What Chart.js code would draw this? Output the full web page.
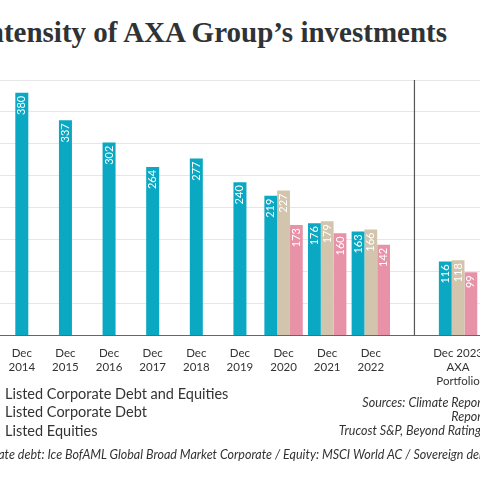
<!DOCTYPE html>
<html><head><meta charset="utf-8">
<script src="https://cdn.jsdelivr.net/npm/chart.js@4/dist/chart.umd.min.js"></script>
<style>
html,body{margin:0;padding:0;width:480px;height:480px;overflow:hidden;background:#fff;position:relative;font-family:Lato,sans-serif;color:#333}
#title{position:absolute;right:33px;top:16px;white-space:nowrap;font:bold 29px "Liberation Serif",serif;color:#2f3335}
#wrap{position:absolute;left:0;top:0;width:486px;height:391px}
.leg{position:absolute;left:5px;font-size:14.5px;color:#333;white-space:nowrap}
#src{position:absolute;right:-6px;top:396px;text-align:right;font-style:italic;font-size:12.5px;line-height:14px;white-space:nowrap;color:#333}
#foot{position:absolute;right:-10px;top:447px;font-style:italic;font-size:12.5px;white-space:nowrap;color:#333}
</style></head><body>
<div id="title">Carbon intensity of AXA Group’s investments</div>
<div id="wrap"><canvas id="c"></canvas></div>
<div class="leg" style="top:385px">Listed Corporate Debt and Equities</div>
<div class="leg" style="top:403px">Listed Corporate Debt</div>
<div class="leg" style="top:422px">Listed Equities</div>
<div id="src">Sources: Climate Report<br>Report<br>Trucost S&amp;P, Beyond Ratings</div>
<div id="foot">Benchmarks: Corporate debt: Ice BofAML Global Broad Market Corporate / Equity: MSCI World AC / Sovereign debt</div>
<script>
const categories=[["Dec","2014"],["Dec","2015"],["Dec","2016"],["Dec","2017"],["Dec","2018"],["Dec","2019"],["Dec","2020"],["Dec","2021"],["Dec","2022"],"",["Dec 2023","AXA","Portfolio"]];
const debtAndEquities=[380,337,302,264,277,240,219,176,163,null,116];
const corporateDebt=[null,null,null,null,null,null,227,179,166,null,118];
const listedEquities=[null,null,null,null,null,null,173,160,142,null,99];
const labelPlugin={id:'lbl',afterDatasetsDraw(ch){const ctx=ch.ctx;ctx.save();
ch.data.datasets.forEach((ds,i)=>{ch.getDatasetMeta(i).data.forEach((b,j)=>{const v=ds.data[j];if(v==null)return;
ctx.save();ctx.translate(b.x,b.y+3);ctx.rotate(-Math.PI/2);ctx.fillStyle='#fff';ctx.font='11px Lato';ctx.textAlign='right';ctx.textBaseline='middle';ctx.fillText(String(v),0,0);ctx.restore();});});
const x=ch.scales.x.getPixelForValue(9),a=ch.chartArea;ctx.strokeStyle='#555';ctx.lineWidth=1.2;ctx.beginPath();ctx.moveTo(x,a.top);ctx.lineTo(x,a.bottom);ctx.stroke();ctx.restore();}};
new Chart(document.getElementById('c'),{type:'bar',
data:{labels:categories,datasets:[
{data:debtAndEquities,backgroundColor:'#0aa8c2',skipNull:true,maxBarThickness:13},
{data:corporateDebt,backgroundColor:'#d3c5ad',skipNull:true,maxBarThickness:13},
{data:listedEquities,backgroundColor:'#e892a8',skipNull:true,maxBarThickness:13}]},
options:{animation:false,responsive:true,maintainAspectRatio:false,devicePixelRatio:1,
layout:{padding:{top:80,left:0,right:0}},
plugins:{legend:{display:false},tooltip:{enabled:false}},
datasets:{bar:{categoryPercentage:0.88,barPercentage:1}},
scales:{x:{grid:{display:false},border:{color:'#666'},ticks:{color:'#333',font:{size:11.5,family:'Lato'},maxRotation:0,autoSkip:false}},
y:{min:0,max:400,ticks:{display:false,stepSize:50},grid:{color:'#e6e6e6',drawTicks:false},border:{display:false}}}},
plugins:[labelPlugin]});
</script></body></html>
